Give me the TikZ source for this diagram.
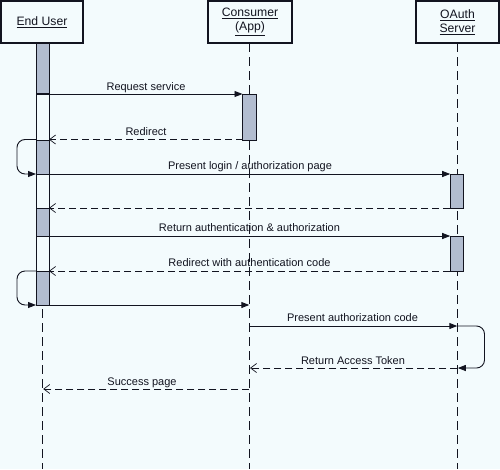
\documentclass[tikz,border=0pt]{standalone}
\usepackage{fontspec}
\setmainfont{Liberation Sans}
\usetikzlibrary{arrows.meta}
\definecolor{bg}{RGB}{243,251,253}
\definecolor{ink}{RGB}{18,20,32}
\definecolor{barfill}{RGB}{178,189,208}
\tikzset{
  hdr/.style={draw=ink, line width=1.3pt, fill=bg, minimum height=42pt, inner sep=0pt, align=center,
              font=\fontsize{12.2}{14}\selectfont, text=ink},
  lifeline/.style={draw=ink, line width=1pt, dash pattern=on 9pt off 5pt},
  actbar/.style={draw=ink, line width=1pt, fill=barfill, minimum width=13pt, inner sep=0pt, anchor=north},
  wbar/.style={actbar, fill=bg},
  msg/.style={draw=ink, line width=0.9pt, -{Triangle[length=8pt,width=6pt]}},
  ret/.style={draw=ink, line width=0.9pt, dash pattern=on 7pt off 4pt, -{Straight Barb[length=6pt,width=9pt,line width=0.7pt]}},
  loopm/.style={msg, rounded corners=8pt},
  lbl/.style={anchor=base, inner sep=0pt, font=\fontsize{11}{13}\selectfont, text=ink},
}
\begin{document}
\begin{tikzpicture}[x=1pt,y=-1pt]
\fill[bg] (0,0) rectangle (500,469);
\useasboundingbox (0,0) rectangle (500,469);

% lifelines
\coordinate (uTop) at (42.7,43);  \coordinate (uBot) at (42.7,469);
\coordinate (cTop) at (249.3,43); \coordinate (cBot) at (249.3,469);
\coordinate (oTop) at (457.3,43); \coordinate (oBot) at (457.3,469);
\draw[lifeline] (uTop) -- (uBot);
\draw[lifeline] (cTop) -- (cBot);
\draw[lifeline] (oTop) -- (oBot);

% headers
\node[hdr, minimum width=82pt] (user) at (42,22) {\underline{End User}};
\node[hdr, minimum width=84pt] (cons) at (250,22) {\underline{Consumer}\\\underline{(App)}};
\node[hdr, minimum width=83pt] (oauth) at (457.5,22) {\underline{OAuth}\\\underline{Server}};

% activation bars - end user
\node[actbar, minimum height=50pt] (ua1) at (42.5,43) {};
\node[wbar, minimum height=47pt] (uw1) at (42.5,93) {};
\node[actbar, minimum height=34pt] (ua2) at (42.5,140) {};
\node[wbar, minimum height=34pt] (uw2) at (42.5,174) {};
\node[actbar, minimum height=28pt] (ua3) at (42.5,208) {};
\node[wbar, minimum height=35pt] (uw3) at (42.5,236) {};
\node[actbar, minimum height=34pt] (ua4) at (42.5,271) {};
% consumer
\node[actbar, minimum height=45.5pt, minimum width=14pt] (ca1) at (249.5,94) {};
% oauth
\node[actbar, minimum height=34pt] (oa1) at (456.7,174) {};
\node[actbar, minimum height=35pt] (oa2) at (456.7,236) {};

% message end points
\coordinate (m1s) at (36,94);    \coordinate (m1e) at (242.5,94);
\coordinate (m2s) at (242.5,139.5); \coordinate (m2e) at (49,139.5);
\coordinate (l1a) at (36,139.5); \coordinate (l1b) at (17,139.5); \coordinate (l1c) at (17,174); \coordinate (l1d) at (36,174);
\coordinate (m4s) at (36,174);   \coordinate (m4e) at (450.2,174);
\coordinate (m5s) at (450.2,208); \coordinate (m5e) at (49,208);
\coordinate (m6s) at (36,236);   \coordinate (m6e) at (450.2,236);
\coordinate (m7s) at (450.2,271); \coordinate (m7e) at (49,271);
\coordinate (l2a) at (36,271);   \coordinate (l2b) at (17,271); \coordinate (l2c) at (17,305); \coordinate (l2d) at (36,305);
\coordinate (m9s) at (36,305);   \coordinate (m9e) at (249.3,305);
\coordinate (m10s) at (249.3,326); \coordinate (m10e) at (457.3,326);
\coordinate (l3a) at (457.3,326); \coordinate (l3b) at (484.5,326); \coordinate (l3c) at (484.5,368); \coordinate (l3d) at (457.8,368);
\coordinate (m12s) at (457.3,368); \coordinate (m12e) at (250,368);
\coordinate (m13s) at (249.3,389); \coordinate (m13e) at (43.2,389);

% messages
\draw[msg] (m1s) -- (m1e);
\draw[ret] (m2s) -- (m2e);
\draw[loopm] (l1a) -- (l1b) -- (l1c) -- (l1d);
\draw[msg] (m4s) -- (m4e);
\draw[ret] (m5s) -- (m5e);
\draw[msg] (m6s) -- (m6e);
\draw[ret] (m7s) -- (m7e);
\draw[loopm] (l2a) -- (l2b) -- (l2c) -- (l2d);
\draw[msg] (m9s) -- (m9e);
\draw[msg] (m10s) -- (m10e);
\draw[loopm] (l3a) -- (l3b) -- (l3c) -- (l3d);
\draw[ret] (m12s) -- (m12e);
\draw[ret] (m13s) -- (m13e);

% labels
\node[lbl] (t1) at (146,90) {Request service};
\node[lbl] (t2) at (146,135.5) {Redirect};
\node[lbl] (t4) at (250,169.5) {Present login / authorization page};
\node[lbl] (t6) at (249.5,231.5) {Return authentication \& authorization};
\node[lbl] (t7) at (249.5,266.5) {Redirect with authentication code};
\node[lbl] (t10) at (352.5,321.5) {Present authorization code};
\node[lbl] (t12) at (353,364) {Return Access Token};
\node[lbl] (t13) at (142,385) {Success page};
\end{tikzpicture}
\end{document}
